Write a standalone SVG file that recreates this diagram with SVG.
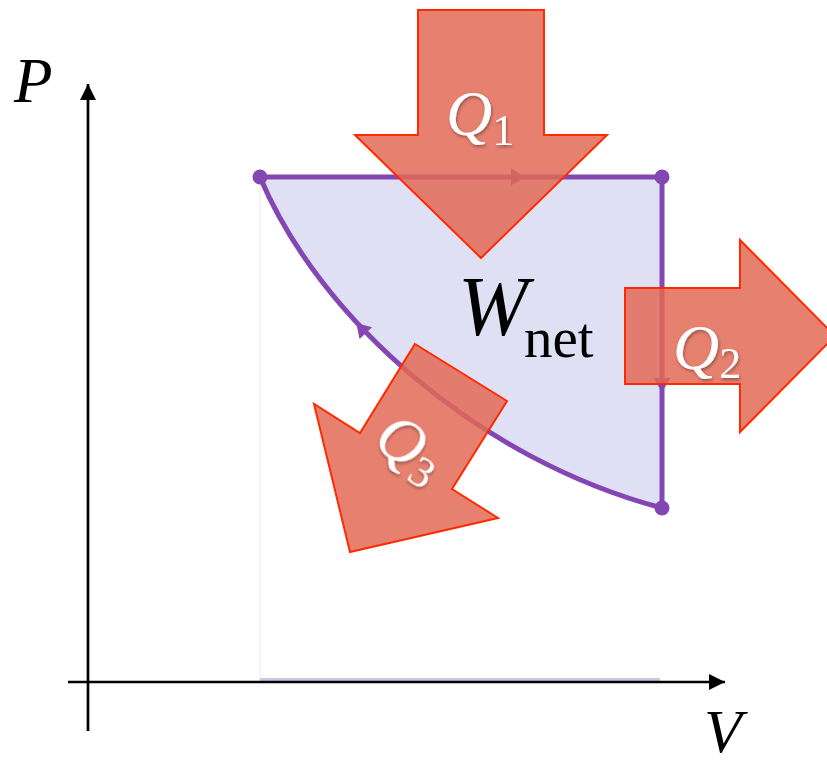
<svg xmlns="http://www.w3.org/2000/svg" width="827" height="764" viewBox="0 0 827 764">
<defs>
<style>
.axis{stroke:#000;stroke-width:2.7;fill:none}
.cyc{stroke:#8446b2;stroke-width:5;fill:none}
.dot{fill:#8446b2}
.mk{fill:#8446b2}
.heat{fill:#e26a56;fill-opacity:0.85;stroke:#ff2a00;stroke-width:2;stroke-linejoin:miter}
.lbl{font-family:"Liberation Serif","Times New Roman",serif}
.q{font-family:"Liberation Serif","Times New Roman",serif;font-style:italic;font-size:64px;fill:#fff}
.sub{font-style:normal;font-size:44px}
</style>
<filter id="tsh" x="-20%" y="-20%" width="140%" height="140%">
<feDropShadow dx="1" dy="2" stdDeviation="1.5" flood-color="#000" flood-opacity="0.35"/>
</filter>
<marker id="mArr" viewBox="-8 -9 16 18" markerWidth="16" markerHeight="18" markerUnits="userSpaceOnUse" refX="0" refY="0" orient="auto">
<polygon points="7,0 -7,-8.5 -7,8.5" fill="#8446b2"/>
</marker>
<marker id="axArr" viewBox="-16 -8 16 16" markerWidth="16" markerHeight="16" markerUnits="userSpaceOnUse" refX="0" refY="0" orient="auto">
<polygon points="0,0 -16,-8 -16,8" fill="#000"/>
</marker>
</defs>
<rect width="827" height="764" fill="#fff"/>

<g id="area">
<path d="M260,177 L662,177 L662,508 C480,460 320,320 260,177 Z" fill="#e0e0f4"/>
<line x1="260" y1="177" x2="260" y2="681" stroke="#f0f0fa" stroke-width="1.5"/>
<line x1="260" y1="679.5" x2="660" y2="679.5" stroke="#c8c8e8" stroke-width="3"/>
</g>

<g id="axes">
<line class="axis" x1="88" y1="731" x2="88" y2="84" marker-end="url(#axArr)"/>
<line class="axis" x1="68" y1="682" x2="725" y2="682" marker-end="url(#axArr)"/>
<text class="lbl" x="14" y="102" font-size="63" font-style="italic">P</text>
<text class="lbl" x="704" y="752" font-size="62" font-style="italic">V</text>
</g>

<g id="connectors">
<path class="cyc" d="M260,177 L518,177 L662,177" marker-mid="url(#mArr)"/>
<path class="cyc" d="M662,177 L662,385 L662,508" marker-mid="url(#mArr)"/>
<path class="cyc" d="M662,508 C480,460 320,320 260,177"/>
<polygon class="mk" points="7,0 -7,-8.5 -7,8.5" transform="translate(361,328) rotate(-133)"/>
</g>

<g id="states">
<circle class="dot" cx="260" cy="177" r="7.5"/>
<circle class="dot" cx="662" cy="177" r="7.5"/>
<circle class="dot" cx="662" cy="508" r="7.5"/>
</g>

<g id="wnet">
<text class="lbl" x="458" y="335" font-size="84" font-style="italic" fill="#000">W<tspan font-style="normal" font-size="57" dy="22" dx="-4">net</tspan></text>
</g>

<g id="Q1">
<polygon class="heat" points="418,10 544,10 544,135 607,135 481,258 355,135 418,135"/>
<text class="q" filter="url(#tsh)" x="446" y="135">Q<tspan class="sub" dy="10">1</tspan></text>
</g>

<g id="Q2">
<polygon class="heat" points="625,288 740,288 740,240 835,336 740,432 740,384 625,384"/>
<text class="q" filter="url(#tsh)" x="673" y="369">Q<tspan class="sub" dy="9">2</tspan></text>
</g>

<g id="Q3">
<polygon class="heat" points="415,344 507,401 452,489 498,518 350,552 314,404 360,433"/>
<text class="q" filter="url(#tsh)" transform="translate(371,446) rotate(32)" x="0" y="0">Q<tspan class="sub" dy="10">3</tspan></text>
</g>
</svg>
